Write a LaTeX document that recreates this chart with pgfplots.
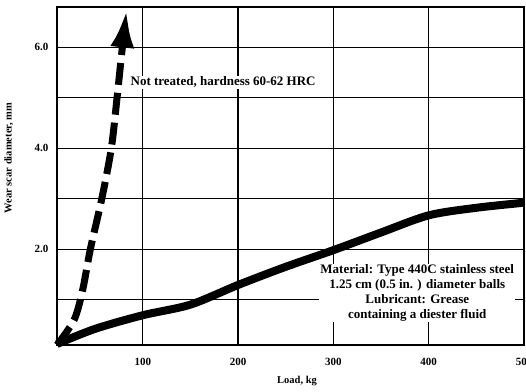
\documentclass[border=0pt]{standalone}
\usepackage{fontspec}
\setmainfont{Liberation Serif}
\usepackage{pgfplots}
\pgfplotsset{compat=1.18}
\usetikzlibrary{arrows.meta,calc}
\begin{document}
\begin{tikzpicture}
\begin{axis}[
  name=ax,
  scale only axis,
  width=467pt, height=338pt,
  xmin=10, xmax=500, ymin=0.1, ymax=6.8,
  xtick={100,200,300,400,500},
  xticklabels={100,200,300,400,500},
  ytick={1,2,3,4,5,6},
  yticklabels={,2.0,,4.0,,6.0},
  major tick length=0pt,
  grid=major,
  grid style={black, line width=1.2pt},
  axis line style={black, line width=1.8pt},
  /pgf/number format/assume math mode=true,
  ticklabel style={font=\bfseries\fontsize{11}{12}\selectfont},
  xticklabel style={yshift=-10pt},
  yticklabel style={xshift=-5pt},
  xlabel={\bfseries\fontsize{10.5}{12}\selectfont Load, kg},
  ylabel={\bfseries\fontsize{10.5}{12}\selectfont Wear scar diameter, mm},
  xlabel style={at={(axis description cs:0.514,-0.1065)}, anchor=center},
  ylabel style={at={(axis description cs:-0.103,0.553)}, anchor=center},
  clip=false,
]
\addplot[black, line width=8pt, smooth] coordinates {
 (10,0.12) (50,0.42) (100,0.69) (150,0.90) (200,1.29) (250,1.65) (300,1.98) (350,2.33) (400,2.67) (450,2.82) (500,2.92)
};
\addplot[black, line width=7pt, dash pattern=on 22pt off 8pt, smooth, -{Latex[length=38pt,width=24pt]}] coordinates {
 (10,0.1) (28,0.6) (37,1.2) (45,2.0) (57,3.0) (67,4.0) (73,5.0) (78,5.9) (83,6.75)
};
\node[fill=white, anchor=west, inner sep=1pt, font=\bfseries\fontsize{13}{15}\selectfont] at (axis cs:86,5.31) {Not treated, hardness 60-62 HRC};
\node[fill=white, align=center, inner sep=1pt, font=\bfseries\fontsize{13}{15}\selectfont] at (axis cs:388,1.13) {Material: Type 440C stainless steel\\1.25 cm (0.5 in. ) diameter balls\\Lubricant: Grease\\containing a diester fluid};
\end{axis}
\pgfresetboundingbox
\useasboundingbox ($(ax.south west)+(-57pt,-47pt)$) rectangle ($(ax.north east)+(2pt,7pt)$);
\end{tikzpicture}
\end{document}
